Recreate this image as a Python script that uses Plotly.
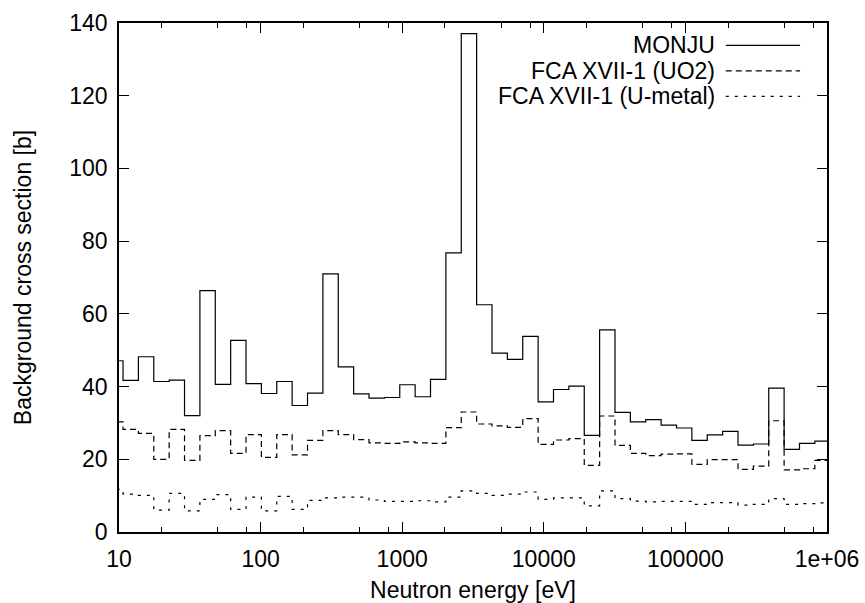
import plotly.graph_objects as go

# Energy group boundaries [eV] (ascending)
energy_bounds = [8.3153, 10.677, 13.710, 17.603, 22.603, 29.023, 37.267, 47.851, 61.442, 78.893,
                 101.30, 130.07, 167.02, 214.45, 275.36, 353.57, 454.00, 582.95, 748.52, 961.12,
                 1234.1, 1584.6, 2034.7, 2612.6, 3354.6, 4307.4, 5530.8, 7101.7, 9118.8, 11709,
                 15034, 19305, 24788, 31828, 40868, 52475, 67379, 86517, 111090, 142642,
                 183156, 235177, 301974, 387742, 497871, 639279, 820850, 1053992]

monju = [47.1, 41.7, 48.2, 41.4, 41.8, 32.0, 66.4, 40.6, 52.7, 40.8,
         38.1, 41.4, 34.8, 38.2, 71.0, 45.4, 38.0, 36.8, 37.0, 40.5,
         37.2, 42.0, 76.8, 137.1, 62.5, 49.2, 47.5, 53.8, 35.8, 39.2,
         40.1, 26.6, 55.6, 32.9, 30.3, 30.9, 29.4, 28.6, 25.2, 26.7,
         27.7, 23.9, 24.2, 39.6, 22.7, 24.4, 25.0]

fca_uo2 = [30.3, 28.2, 27.1, 20.0, 28.2, 19.7, 26.5, 27.9, 21.6, 26.8,
           20.5, 26.8, 21.2, 25.2, 27.9, 26.8, 25.4, 24.5, 24.4, 24.8,
           24.5, 24.4, 28.7, 33.0, 29.7, 29.2, 28.8, 31.2, 24.1, 25.3,
           25.7, 18.3, 31.9, 23.8, 21.6, 21.0, 21.4, 21.5, 18.6, 19.9,
           19.9, 17.2, 18.1, 30.6, 17.1, 17.4, 19.7]

fca_umetal = [11.7, 10.4, 10.1, 6.0, 10.6, 5.8, 9.0, 10.3, 6.2, 9.6,
              5.8, 9.8, 6.2, 8.7, 9.4, 9.6, 9.6, 8.8, 8.4, 8.4,
              8.6, 8.3, 9.6, 11.3, 10.6, 10.1, 10.4, 11.0, 9.0, 9.4,
              9.4, 7.2, 11.3, 9.2, 8.5, 8.3, 8.4, 8.4, 7.6, 8.1,
              8.1, 7.4, 7.6, 9.2, 7.6, 7.8, 8.0]

series_names = ["MONJU", "FCA XVII-1 (UO2)", "FCA XVII-1 (U-metal)"]
series_dash = ["solid", "6px,4px", "3px,6px"]

x_tickvals = [10, 100, 1000, 10000, 100000, 1000000]
x_ticktext = ["10", "100", "1000", "10000", "100000", "1e+06"]
x_minor = [m * d for d in [10, 100, 1000, 10000, 100000] for m in (2, 5, 8)]
y_tickvals = [0, 20, 40, 60, 80, 100, 120, 140]

FONT = "Liberation Sans, Arial, Helvetica, sans-serif"
FS = 23

fig = go.Figure()
for name, vals, dash in zip(series_names, [monju, fca_uo2, fca_umetal], series_dash):
    fig.add_trace(go.Scatter(
        x=energy_bounds, y=vals + [vals[-1]], mode="lines", name=name,
        line=dict(color="black", width=1.2, dash=dash, shape="hv"),
        showlegend=False, hoverinfo="skip"))

# Manual gnuplot-style legend: right-aligned text, sample line on the right
leg_y = [0.956, 0.906, 0.856]
for name, dash, yy in zip(series_names, series_dash, leg_y):
    fig.add_annotation(xref="paper", yref="paper", x=0.845, y=yy, text=name,
                       showarrow=False, xanchor="right", yanchor="middle",
                       font=dict(family=FONT, size=FS, color="black"))
    fig.add_shape(type="line", xref="paper", yref="paper", x0=0.857, x1=0.962,
                  y0=yy, y1=yy, line=dict(color="black", width=1.2, dash=dash))

axis_common = dict(showline=True, linecolor="black", linewidth=1.5, mirror="ticks",
                   ticks="inside", ticklen=10, tickwidth=1.2, tickcolor="black",
                   showgrid=False, zeroline=False, automargin=False,
                   tickfont=dict(family=FONT, size=FS, color="black"))

fig.update_layout(
    width=865, height=603,
    margin=dict(l=119, r=38, t=23, b=71),
    paper_bgcolor="white", plot_bgcolor="white",
    font=dict(family=FONT, size=FS, color="black"),
    xaxis=dict(type="log", range=[1, 6], tickmode="array", tickvals=x_tickvals,
               ticktext=x_ticktext,
               minor=dict(tickmode="array", tickvals=x_minor, ticks="inside",
                          ticklen=5, tickwidth=1.2, tickcolor="black", showgrid=False),
               title=dict(text="Neutron energy [eV]", standoff=11,
                          font=dict(family=FONT, size=FS, color="black")),
               ticklabelstandoff=6,
               **axis_common),
    yaxis=dict(range=[0, 140], tickmode="array", tickvals=y_tickvals,
               title=dict(text="Background cross section [b]", standoff=31,
                          font=dict(family=FONT, size=FS, color="black")),
               ticklabelstandoff=5,
               **axis_common),
)

fig.write_html("out.html")
